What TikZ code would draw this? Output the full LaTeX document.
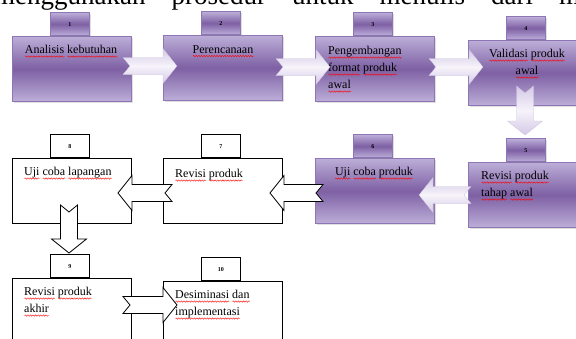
\documentclass[tikz,border=0pt]{standalone}
\usepackage{fontspec}
\setmainfont{Liberation Serif}
\usetikzlibrary{shadows,decorations.pathmorphing}
\definecolor{pborder}{RGB}{142,118,182}
\definecolor{plight}{RGB}{188,174,216}
\definecolor{pdark}{RGB}{126,96,164}
\definecolor{alight}{RGB}{246,243,250}
\definecolor{amid}{RGB}{212,201,230}
\newdimen\rwlen
\newcommand\rw[1]{\setbox0\hbox{#1}\rwlen=\wd0\leavevmode\rlap{\tikz[x=1pt,y=1pt,baseline=0pt]{\draw[red,line width=0.4pt,decorate,decoration={snake,amplitude=0.7pt,segment length=2.6pt}] (0pt,-3pt) -- (\rwlen,-3pt);}}#1}
% notched block arrow: style, tail x, tail y, angle, length
\newcommand\narrow[5]{%
  \begin{scope}[shift={(#2,#3)},rotate=#4]
    \path[#1] (0,-8.5) -- ({#5-14},-8.5) -- ({#5-14},-17.5) -- (#5,0)
      -- ({#5-14},17.5) -- ({#5-14},8.5) -- (0,8.5) -- (7,0) -- cycle;
  \end{scope}}
\tikzset{
  pbox/.style={draw=pborder, line width=0.8pt, top color=plight, bottom color=plight,
    middle color=pdark, drop shadow={opacity=0.25, shadow xshift=1.2pt, shadow yshift=-1.2pt},
    rectangle, inner sep=0pt, anchor=north west},
  wbox/.style={draw=black, line width=0.8pt, fill=white, rectangle, inner sep=0pt, anchor=north west},
  big/.style={minimum width=119pt, minimum height=65pt},
  tab/.style={minimum width=39pt, minimum height=23pt, anchor=south west,
    font=\fontsize{6}{7}\selectfont\bfseries},
  parrow/.style={draw=pborder!45, line width=0.3pt, top color=amid, bottom color=amid, middle color=alight},
  warrow/.style={draw=black, line width=0.8pt, fill=white},
  txt/.style={inner sep=0pt, font=\fontsize{12}{17}\selectfont, align=left},
}
\begin{document}
\begin{tikzpicture}[x=1pt, y=-1pt]
\useasboundingbox (0,0) rectangle (576,338);
\node[inner sep=0pt, anchor=base west, font=\fontsize{27}{29}\selectfont] (head) at (-6,4)
  {\makebox[586pt][s]{menggunakan prosedur untuk menulis dari m}};

% row 1
\node[pbox,big] (b1) at (12,36) {};
\node[pbox,tab] (t1) at ([xshift=38pt]b1.north west) {1};
\node[pbox,big] (b2) at (163,35) {};
\node[pbox,tab] (t2) at ([xshift=38pt]b2.north west) {2};
\node[pbox,big] (b3) at (315,36) {};
\node[pbox,tab] (t3) at ([xshift=38pt]b3.north west) {3};
\node[pbox,big] (b4) at (468,40) {};
\node[pbox,tab] (t4) at ([xshift=38pt]b4.north west) {4};
% row 2
\node[wbox,big] (b8) at (12,158) {};
\node[wbox,tab] (t8) at ([xshift=38pt]b8.north west) {8};
\node[wbox,big] (b7) at (163,158) {};
\node[wbox,tab] (t7) at ([xshift=38pt]b7.north west) {7};
\node[pbox,big] (b6) at (315,158) {};
\node[pbox,tab] (t6) at ([xshift=38pt]b6.north west) {6};
\node[pbox,big] (b5) at (468,162) {};
\node[pbox,tab] (t5) at ([xshift=38pt]b5.north west) {5};
% row 3
\node[wbox,minimum width=119pt,minimum height=80pt] (b9) at (12,278) {};
\node[wbox,tab] (t9) at ([xshift=38pt]b9.north west) {9};
\node[wbox,minimum width=119pt,minimum height=80pt] (b10) at (163,281) {};
\node[wbox,tab] (t10) at ([xshift=38pt]b10.north west) {10};

% texts
\node[txt,anchor=north] (l1) at (71,45) {\rw{Analisis} \rw{kebutuhan}};
\node[txt,anchor=north] (l2) at (223,45) {\rw{Perencanaan}};
\node[txt,anchor=north west] (l3) at (328,46) {\rw{Pengembangan}\\\rw{format} \rw{produk}\\\rw{awal}};
\node[txt,anchor=north,align=center] (l4) at (527,49) {\rw{Validasi} \rw{produk}\\\rw{awal}};
\node[txt,anchor=north west] (l5) at (481,171) {\rw{Revisi} \rw{produk}\\\rw{tahap} \rw{awal}};
\node[txt,anchor=north] (l6) at (374,167) {\rw{Uji} \rw{coba} \rw{produk}};
\node[txt,anchor=north west] (l7) at (175,169) {\rw{Revisi} \rw{produk}};
\node[txt,anchor=north west] (l8) at (24,167) {\rw{Uji} \rw{coba} \rw{lapangan}};
\node[txt,anchor=north west] (l9) at (24,287) {\rw{Revisi} \rw{produk}\\\rw{akhir}};
\node[txt,anchor=north west] (l10) at (175,290) {\rw{Desiminasi} \rw{dan}\\\rw{implementasi}};

% arrows
\narrow{parrow}{123}{66}{0}{54}
\narrow{parrow}{276}{67}{0}{54}
\narrow{parrow}{429}{67}{0}{54}
\narrow{parrow}{525}{86}{-90}{49}
\narrow{parrow}{471}{195}{180}{52}
\narrow{warrow}{323}{193}{180}{53}
\narrow{warrow}{172}{193}{180}{54}
\narrow{warrow}{69}{205}{-90}{48}
\narrow{warrow}{123}{305}{0}{54}
\end{tikzpicture}
\end{document}
